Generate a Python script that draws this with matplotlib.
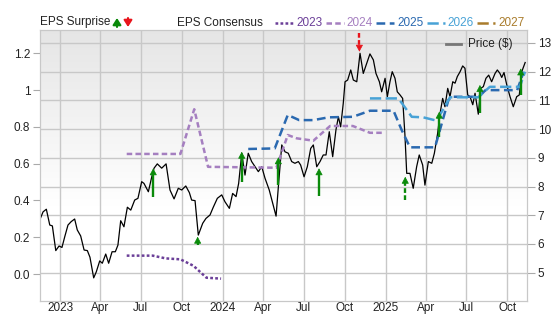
import numpy as np
import pandas as pd
import matplotlib
matplotlib.use('Agg')
import matplotlib.pyplot as plt
from matplotlib.lines import Line2D
from matplotlib.patches import FancyArrowPatch

plt.rcParams['font.family'] = ['Liberation Sans', 'DejaVu Sans']

# price ($), time in decimal years
price_t = [2022.877, 2022.896, 2022.916, 2022.937, 2022.953, 2022.974, 2022.994, 2023.012,
           2023.029, 2023.049, 2023.069, 2023.090, 2023.106, 2023.127, 2023.148, 2023.168,
           2023.184, 2023.207, 2023.223, 2023.244, 2023.260, 2023.281, 2023.299, 2023.320,
           2023.340, 2023.356, 2023.373, 2023.393, 2023.414, 2023.435, 2023.459, 2023.479,
           2023.502, 2023.516, 2023.543, 2023.564, 2023.578, 2023.598, 2023.625, 2023.652,
           2023.676, 2023.701, 2023.727, 2023.748, 2023.773, 2023.795, 2023.809, 2023.830,
           2023.850, 2023.877, 2023.897, 2023.922, 2023.942, 2023.967, 2023.994, 2024.014,
           2024.041, 2024.061, 2024.082, 2024.098, 2024.117, 2024.137, 2024.157, 2024.178,
           2024.199, 2024.219, 2024.240, 2024.260, 2024.286, 2024.307, 2024.328, 2024.342,
           2024.363, 2024.383, 2024.403, 2024.424, 2024.444, 2024.465, 2024.479, 2024.500,
           2024.520, 2024.541, 2024.557, 2024.578, 2024.598, 2024.618, 2024.635, 2024.655,
           2024.676, 2024.696, 2024.711, 2024.725, 2024.741, 2024.752, 2024.768, 2024.787,
           2024.803, 2024.824, 2024.844, 2024.864, 2024.885, 2024.905, 2024.926, 2024.942,
           2024.963, 2024.977, 2024.998, 2025.012, 2025.028, 2025.042, 2025.059, 2025.073,
           2025.090, 2025.106, 2025.120, 2025.131, 2025.151, 2025.171, 2025.192, 2025.208,
           2025.229, 2025.243, 2025.264, 2025.285, 2025.301, 2025.321, 2025.336, 2025.352,
           2025.366, 2025.383, 2025.397, 2025.414, 2025.428, 2025.442, 2025.459, 2025.475,
           2025.489, 2025.506, 2025.520, 2025.537, 2025.551, 2025.571, 2025.586, 2025.602,
           2025.618, 2025.635, 2025.653, 2025.674, 2025.688, 2025.704, 2025.715, 2025.729,
           2025.746, 2025.766, 2025.786, 2025.807, 2025.823, 2025.838, 2025.859]
price = [6.86, 7.12, 7.21, 6.66, 6.63, 5.77, 5.93, 5.88,
         6.25, 6.66, 6.78, 6.87, 6.49, 6.28, 5.79, 5.77,
         5.54, 4.82, 5.03, 5.41, 5.33, 5.65, 5.33, 5.73,
         5.73, 5.96, 6.81, 6.60, 7.28, 7.18, 7.53, 7.59,
         8.17, 8.11, 7.82, 8.34, 8.64, 8.79, 8.64, 8.79,
         7.88, 7.57, 7.94, 7.88, 8.02, 7.79, 7.53, 7.51,
         6.31, 6.72, 6.89, 7.01, 7.28, 7.59, 7.71, 7.47,
         7.24, 7.76, 7.65, 8.11, 9.16, 8.40, 9.16, 8.87,
         8.69, 8.52, 8.69, 8.29, 7.88, 7.42, 6.97, 7.99,
         9.45, 9.21, 9.16, 8.87, 8.81, 8.87, 8.75, 8.34,
         8.69, 9.33, 9.45, 8.69, 8.87, 9.10, 9.10, 9.91,
         9.04, 9.97, 10.43, 10.08, 10.90, 11.65, 11.71, 12.06,
         11.71, 11.65, 12.64, 11.94, 12.29, 12.62, 12.41, 11.94,
         11.65, 11.30, 11.77, 11.13, 11.65, 12.00, 11.77, 11.30,
         11.19, 11.07, 9.80, 8.46, 8.46, 7.94, 8.69, 9.10,
         8.75, 8.05, 8.87, 8.81, 9.16, 9.85, 10.55, 11.07,
         10.78, 11.42, 11.13, 11.65, 11.60, 11.83, 12.00, 12.20,
         12.12, 11.19, 11.13, 10.85, 11.25, 10.52, 11.42, 11.48,
         11.77, 11.88, 11.65, 11.94, 12.06, 11.94, 11.80, 11.97,
         11.54, 11.13, 10.78, 11.13, 11.19, 12.00, 12.32]

# EPS consensus by fiscal year
cons_2023_t = [2023.41, 2023.57, 2023.65, 2023.74, 2023.82, 2023.90, 2023.99]
cons_2023 = [0.10, 0.10, 0.085, 0.08, 0.045, -0.02, -0.025]
cons_2024_t = [2023.41, 2023.74, 2023.825, 2023.91, 2024.33, 2024.40, 2024.455, 2024.557,
               2024.66, 2024.80, 2024.905, 2024.99]
cons_2024 = [0.653, 0.653, 0.896, 0.583, 0.578, 0.756, 0.738, 0.725, 0.805, 0.805, 0.768, 0.768]
cons_2025_t = [2024.157, 2024.32, 2024.40, 2024.47, 2024.557, 2024.65, 2024.80, 2024.905,
               2025.05, 2025.10, 2025.151, 2025.305, 2025.387, 2025.41, 2025.575, 2025.615,
               2025.81, 2025.85]
cons_2025 = [0.68, 0.683, 0.865, 0.837, 0.837, 0.852, 0.855, 0.888,
             0.888, 0.783, 0.689, 0.689, 0.946, 0.964, 0.964, 1.00,
             1.00, 1.10]
cons_2026_t = [2024.905, 2025.08, 2025.162, 2025.233, 2025.315, 2025.397, 2025.57, 2025.642,
               2025.826, 2025.858]
cons_2026 = [0.955, 0.955, 0.855, 0.852, 0.834, 0.961, 0.961, 1.018, 1.018, 1.10]

# EPS surprise arrows: time, from, to, dashed
surp_t = [2023.573, 2023.846, 2024.117, 2024.342, 2024.592, 2024.84, 2025.122, 2025.331,
          2025.581, 2025.832]
surp_from = [0.42, 0.158, 0.50, 0.484, 0.424, 1.309, 0.402, 0.747, 0.874, 0.973]
surp_to = [0.575, 0.203, 0.665, 0.635, 0.575, 1.209, 0.529, 0.883, 1.028, 1.118]
surp_dashed = [False, False, False, False, False, True, True, False, False, False]

years = ['2023', '2024', '2025', '2026', '2027']
year_colors = ['#6b3f98', '#a57fc0', '#2a69b0', '#48a2d6', '#a97c2c']
year_dashes = [(1.1, 0.9), (2.2, 1.3), (3.5, 1.8), (4.5, 1.8), (4.5, 1.8)]


def to_dates(t):
    t = np.asarray(t, dtype=float)
    return pd.Timestamp('2023-01-01') + pd.to_timedelta((t - 2023) * 365.25, unit='D')


fig = plt.figure(figsize=(5.56, 3.15), dpi=100)
ax = fig.add_axes([40 / 556, 1 - 300.7 / 315, 486.7 / 556, 270.7 / 315])
ax2 = ax.twinx()

# background gradient
grad = np.linspace(1, 0, 256).reshape(-1, 1)
shade = np.clip((grad - 0.35) / 0.65, 0, 1)
img = np.ones((256, 1, 3)) * (1 - 0.10 * shade)[:, :, None]
ax.imshow(img, extent=[0, 1, 0, 1], transform=ax.transAxes, aspect='auto', zorder=0)

xmin, xmax = to_dates([2022.877, 2025.8685])
ax.set_xlim(xmin, xmax)
ax.set_ylim(4.025, 13.452)
ax2.set_ylim(-0.145, 1.327)

# price on the primary axis, ticks on the right
ax.plot(to_dates(price_t), price, color='black', lw=0.9, zorder=3)
ax.yaxis.tick_right()
ax.set_yticks(range(5, 14))
ax.grid(True, color='#c8c8c8', lw=1)
ax.set_axisbelow(True)

# EPS on the twin axis, ticks on the left
ax2.yaxis.tick_left()
ax2.set_yticks([0.0, 0.2, 0.4, 0.6, 0.8, 1.0, 1.2])
ax2.set_yticklabels(['0.0', '0.2', '0.4', '0.6', '0.8', '1', '1.2'])

cons = [(cons_2023_t, cons_2023), (cons_2024_t, cons_2024),
        (cons_2025_t, cons_2025), (cons_2026_t, cons_2026)]
for (ct, cv), col, dsh in zip(cons, year_colors, year_dashes):
    ax2.plot(to_dates(ct), cv, color=col, lw=1.8, dashes=dsh)

head = 0.028
for t, a, b, dsh in zip(surp_t, surp_from, surp_to, surp_dashed):
    col = '#e8141b' if b < a else '#0a8a0a'
    d = to_dates([t])[0]
    base = b - head if b > a else b + head
    ax2.plot([d, d], [a, base], color=col, lw=1.7, dashes=(2, 1) if dsh else (None, None),
             solid_capstyle='butt', dash_capstyle='butt', zorder=4)
    ax2.annotate('', xy=(d, b), xytext=(d, base),
                 arrowprops=dict(arrowstyle='-|>,head_length=0.6,head_width=0.32', color=col,
                                 lw=0.5, shrinkA=0, shrinkB=0, mutation_scale=7), zorder=4)

quarters = pd.date_range('2023-01-01', '2025-10-01', freq='QS')
ax.set_xticks(quarters)
ax.set_xticklabels([str(q.year) if q.month == 1 else q.strftime('%b') for q in quarters])

for a in (ax, ax2):
    for s in a.spines.values():
        s.set_color('#c8c8c8')
    a.tick_params(colors='#222222', labelsize=8.5)
ax.tick_params(axis='x', length=0, pad=1)
ax.tick_params(axis='y', length=6, color='#aaaaaa', pad=2)
ax2.tick_params(axis='y', length=5, color='#aaaaaa', pad=2)

# price legend inside the plot
ax.add_line(Line2D([0.835, 0.865], [0.95, 0.95], transform=ax.transAxes, color='#777777', lw=2))
ax.text(0.88, 0.95, 'Price ($)', transform=ax.transAxes, fontsize=8.5, va='center', color='#222222')

# top legend row
ly = 1 - 22.5 / 315
fig.text(40 / 556, ly, 'EPS Surprise', fontsize=8.5, va='center', color='#222222')
for xa, col, up in [(117, '#0a8a0a', True), (128, '#e8141b', False)]:
    y0, y1 = (27 / 315, 18 / 315) if up else (18 / 315, 27 / 315)
    fig.patches.append(FancyArrowPatch(
        (xa / 556, 1 - y0), (xa / 556, 1 - y1), transform=fig.transFigure,
        arrowstyle='-|>,head_length=0.55,head_width=0.35', mutation_scale=7,
        color=col, lw=1.5, shrinkA=0, shrinkB=0))
fig.text(177 / 556, ly, 'EPS Consensus', fontsize=8.5, va='center', color='#222222')
for i, (yr, col) in enumerate(zip(years, year_colors)):
    x0 = 275 + i * 50.5
    fig.lines.append(Line2D([x0 / 556, (x0 + 18) / 556], [ly, ly], transform=fig.transFigure,
                            color=col, lw=1.8, dashes=year_dashes[i]))
    fig.text((x0 + 21) / 556, ly, yr, fontsize=8.5, va='center', color=col)

fig.savefig('out.png', dpi=100)
